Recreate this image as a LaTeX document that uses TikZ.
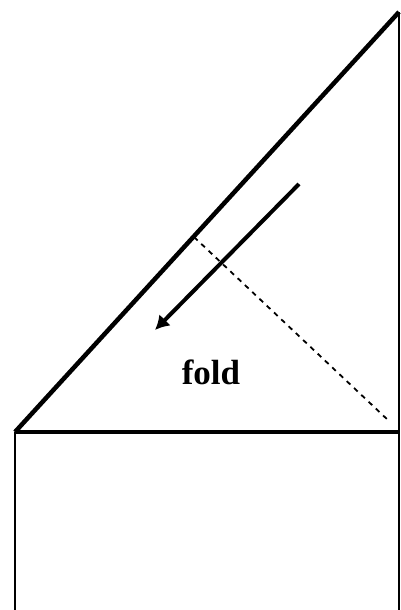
\documentclass[tikz,border=0pt]{standalone}
\usepackage{fontspec}
\setmainfont{Liberation Serif}
\usetikzlibrary{arrows.meta}
\begin{document}
\begin{tikzpicture}[x=1pt,y=-1pt,
  thinedge/.style={line width=2.5pt},
  foldline/.style={line width=1.8pt, dash pattern=on 5pt off 5pt},
  foldarrow/.style={line width=4pt, -{Latex[length=14pt,width=16pt]}},
  lbl/.style={font=\bfseries\fontsize{35}{35}\selectfont, inner sep=0pt}]
\useasboundingbox (0,0) rectangle (400,610);
\coordinate (bl) at (15,610);
\coordinate (ml) at (15,432);
\coordinate (mr) at (399,432);
\coordinate (br) at (399,610);
\coordinate (top) at (399,12);
\coordinate (d1) at (194,237);
\coordinate (d2) at (389,421);
\coordinate (a1) at (299,184);
\coordinate (a2) at (155,330);
\draw[thinedge] (bl) -- (ml);
\draw[line width=4.5pt] (ml) -- (mr);
\draw[thinedge] (br) -- (top);
\draw[line width=4.5pt] (ml) -- (top);
\draw[foldline] (d1) -- (d2);
\draw[foldarrow] (a1) -- (a2);
\node[lbl] (fold) at (211,372) {fold};
\end{tikzpicture}
\end{document}
